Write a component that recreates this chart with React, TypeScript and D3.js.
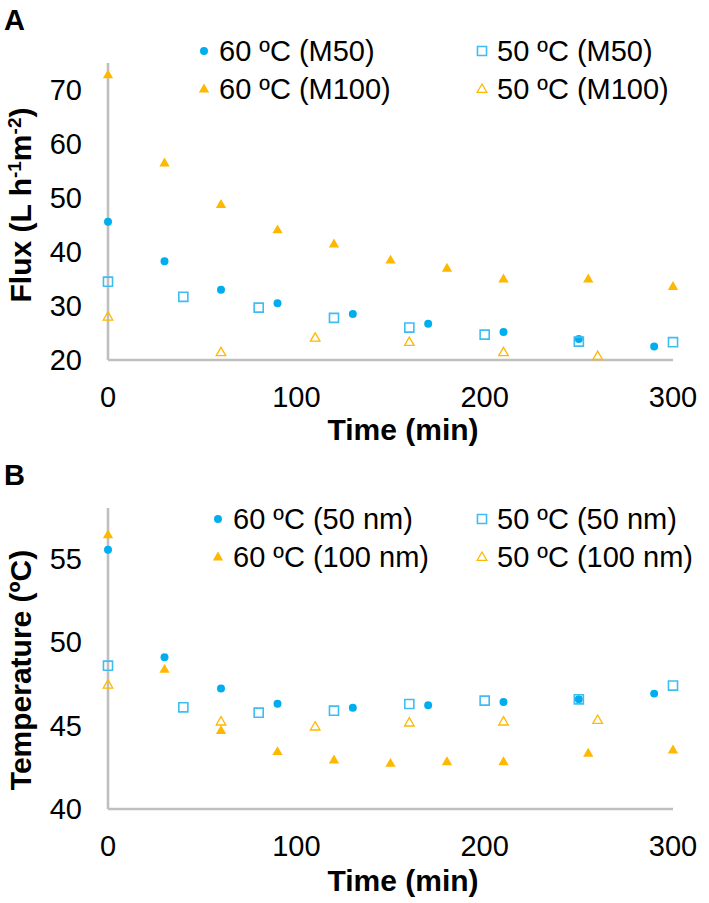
import React from "react";
import * as d3 from "d3";

const W = 709;
const H = 903;

// Panel A: Flux
const fluxTime60M50 = [0, 30, 60, 90, 130, 170, 210, 250, 290];
const flux60M50 = [45.6, 38.3, 33.0, 30.5, 28.5, 26.7, 25.2, 23.9, 22.5];
const fluxTime50M50 = [0, 40, 80, 120, 160, 200, 250, 300];
const flux50M50 = [34.5, 31.7, 29.7, 27.8, 26.0, 24.7, 23.4, 23.3];
const fluxTime60M100 = [0, 30, 60, 90, 120, 150, 180, 210, 255, 300];
const flux60M100 = [72.8, 56.5, 48.8, 44.1, 41.5, 38.5, 37.0, 35.0, 35.0, 33.6];
const fluxTime50M100 = [0, 60, 110, 160, 210, 260];
const flux50M100 = [28.0, 21.4, 24.1, 23.3, 21.4, 20.7];

// Panel B: Temperature
const tempTime60_50 = [0, 30, 60, 90, 130, 170, 210, 250, 290];
const temp60_50 = [55.5, 49.07, 47.2, 46.3, 46.06, 46.2, 46.4, 46.56, 46.9];
const tempTime50_50 = [0, 40, 80, 120, 160, 200, 250, 300];
const temp50_50 = [48.57, 46.08, 45.76, 45.88, 46.28, 46.48, 46.56, 47.38];
const tempTime60_100 = [0, 30, 60, 90, 120, 150, 180, 210, 255, 300];
const temp60_100 = [56.4, 48.35, 44.7, 43.43, 42.93, 42.73, 42.83, 42.83, 43.33, 43.53];
const tempTime50_100 = [0, 60, 110, 160, 210, 260];
const temp50_100 = [47.42, 45.22, 44.92, 45.16, 45.22, 45.32];

const xTicks = [0, 100, 200, 300];
const fluxTicks = [20, 30, 40, 50, 60, 70];
const tempTicks = [40, 45, 50, 55];

const legendA = ["60 ºC (M50)", "50 ºC (M50)", "60 ºC (M100)", "50 ºC (M100)"];
const legendB = ["60 ºC (50 nm)", "50 ºC (50 nm)", "60 ºC (100 nm)", "50 ºC (100 nm)"];

const BLUE = "#00AEEF";
const LBLUE = "#3DBDF2";
const ORANGE = "#FFB800";
const AXIS = "#BFBFBF";
const FONT = "'Liberation Sans', Arial, sans-serif";

const circlePath = d3.symbol(d3.symbolCircle, 50)()!;
const squarePath = d3.symbol(d3.symbolSquare, 82)()!;
const triPath = d3.symbol(d3.symbolTriangle, 46)()!;
const triOpenPath = d3.symbol(d3.symbolTriangle, 40)()!;

type Kind = "dot" | "sq" | "tri" | "otri";

function Marker({ kind, x, y }: { kind: Kind; x: number; y: number }) {
  const t = `translate(${x},${y})`;
  if (kind === "dot") return <path d={circlePath} transform={t} fill={BLUE} />;
  if (kind === "sq")
    return <path d={squarePath} transform={t} fill="none" stroke={LBLUE} strokeWidth={1.6} />;
  if (kind === "tri") return <path d={triPath} transform={`translate(${x},${y + 0.5})`} fill={ORANGE} />;
  return <path d={triOpenPath} transform={`translate(${x},${y + 0.5})`} fill="none" stroke={ORANGE} strokeWidth={1.3} />;
}

const kinds: Kind[] = ["dot", "sq", "tri", "otri"];

function Panel(props: {
  yDomain: [number, number];
  yRange: [number, number];
  yTicks: number[];
  series: { t: number[]; v: number[] }[];
  legend: string[];
  legendX: [number, number];
  legendY: [number, number];
  label: string;
  labelY: number;
  titleY: number;
  yTitle: React.ReactNode;
  yTitleCenter: number;
}) {
  const x = d3.scaleLinear().domain([0, 300]).range([108, 673]);
  const y = d3.scaleLinear().domain(props.yDomain).range(props.yRange);
  const y0 = props.yRange[0];
  const yTop = props.yRange[1];
  return (
    <g>
      <text x={4} y={props.labelY} fontFamily={FONT} fontWeight="bold" fontSize={29} fill="#000">
        {props.label}
      </text>
      {/* axes */}
      <line x1={108} x2={108} y1={yTop} y2={y0} stroke={AXIS} strokeWidth={2.6} />
      <line x1={108} x2={673} y1={y0} y2={y0} stroke={AXIS} strokeWidth={2.6} />
      {props.yTicks.map((v) => (
        <text key={v} x={82} y={y(v)} dy="0.36em" textAnchor="end" fontFamily={FONT} fontSize={29} fill="#000">
          {v}
        </text>
      ))}
      {xTicks.map((v) => (
        <text key={v} x={x(v)} y={y0 + 37} dy="0.36em" textAnchor="middle" fontFamily={FONT} fontSize={29} fill="#000">
          {v}
        </text>
      ))}
      <text x={403} y={props.titleY} dy="0.36em" textAnchor="middle" fontFamily={FONT} fontWeight="bold" fontSize={30} fill="#000">
        Time (min)
      </text>
      <text
        transform={`translate(20,${props.yTitleCenter}) rotate(-90)`}
        dy="0.36em"
        textAnchor="middle"
        fontFamily={FONT}
        fontWeight="bold"
        fontSize={30}
        fill="#000"
      >
        {props.yTitle}
      </text>
      {/* data */}
      {props.series.map((s, si) =>
        s.t.map((tv, i) => <Marker key={`${si}-${i}`} kind={kinds[si]} x={x(tv)} y={y(s.v[i])} />)
      )}
      {/* legend */}
      {props.legend.map((lab, i) => {
        const col = i % 2;
        const row = Math.floor(i / 2);
        const lx = col === 0 ? props.legendX[0] : props.legendX[1];
        const ly = props.legendY[row];
        const k: Kind = kinds[i];
        return (
          <g key={lab}>
            <Marker kind={k} x={lx} y={ly} />
            <text x={lx + 15} y={ly} dy="0.36em" fontFamily={FONT} fontSize={29} fill="#000">
              {lab}
            </text>
          </g>
        );
      })}
    </g>
  );
}

export default function App() {
  const fluxTitle = (
    <>
      Flux (L h<tspan fontSize={19} dy={-10}>-1</tspan>
      <tspan dy={10}>m</tspan>
      <tspan fontSize={19} dy={-10}>-2</tspan>
      <tspan dy={10}>)</tspan>
    </>
  );
  return (
    <svg
      width={W}
      height={H}
      viewBox={`0 0 ${W} ${H}`}
      style={{ position: "absolute", left: 0, top: 0, background: "#fff" }}
    >
      <rect width={W} height={H} fill="#fff" />
      <Panel
        yDomain={[20, 75]}
        yRange={[360, 63]}
        yTicks={fluxTicks}
        series={[
          { t: fluxTime60M50, v: flux60M50 },
          { t: fluxTime50M50, v: flux50M50 },
          { t: fluxTime60M100, v: flux60M100 },
          { t: fluxTime50M100, v: flux50M100 },
        ]}
        legend={legendA}
        legendX={[204, 482]}
        legendY={[51, 89]}
        label="A"
        labelY={30}
        titleY={429}
        yTitle={fluxTitle}
        yTitleCenter={205}
      />
      <Panel
        yDomain={[40, 58]}
        yRange={[809, 508]}
        yTicks={tempTicks}
        series={[
          { t: tempTime60_50, v: temp60_50 },
          { t: tempTime50_50, v: temp50_50 },
          { t: tempTime60_100, v: temp60_100 },
          { t: tempTime50_100, v: temp50_100 },
        ]}
        legend={legendB}
        legendX={[218, 482]}
        legendY={[519, 557]}
        label="B"
        labelY={485}
        titleY={880}
        yTitle="Temperature (ºC)"
        yTitleCenter={670}
      />
    </svg>
  );
}
